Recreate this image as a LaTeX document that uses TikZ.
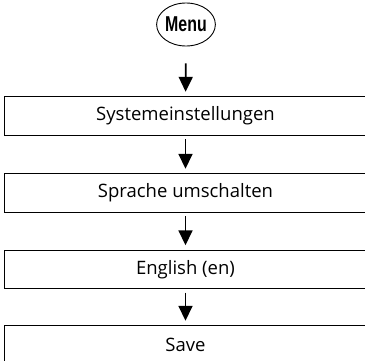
\documentclass[tikz,border=0pt]{standalone}
\usepackage{fontspec}
\usepackage{graphicx}
\setmainfont{Open Sans}
\newfontfamily\menufont{Liberation Sans}
\usetikzlibrary{arrows.meta,shapes.geometric}
\tikzset{
  stepbox/.style={rectangle, minimum width=361pt, minimum height=38pt, inner sep=0pt, font=\fontsize{18.5}{22}\selectfont},
  boxline/.style={draw=black, line width=1.2pt},
  menunode/.style={draw=black, line width=0.9pt, ellipse, minimum width=46pt, minimum height=43pt, inner sep=0pt},
  flowarrow/.style={line width=1.7pt, -{Triangle[length=15pt,width=14pt]}, shorten <=4pt, shorten >=5pt}
}
\begin{document}
\begin{tikzpicture}[x=1pt,y=-1pt]
\useasboundingbox (0,0) rectangle (365,361);
\node[menunode] (menu) at (186,24.5) {\menufont\bfseries\fontsize{21.5}{23}\selectfont\scalebox{0.74}[1]{Menu}};
\node[stepbox] (s1) at (185.5,116) {Systemeinstellungen};
\node[stepbox] (s2) at (185.5,193) {Sprache umschalten};
\node[stepbox] (s3) at (185.5,269.5) {English (en)};
\node[stepbox] (s4) at (185.5,345) {Save};
\foreach \n in {s1,s2,s3,s4}{
  \draw[boxline] (\n.north west) rectangle ([xshift=12pt]\n.south east);
}
\draw[flowarrow, shorten <=17pt] (menu) -- (s1);
\draw[flowarrow] (s1) -- (s2);
\draw[flowarrow] (s2) -- (s3);
\draw[flowarrow] (s3) -- (s4);
\end{tikzpicture}
\end{document}
